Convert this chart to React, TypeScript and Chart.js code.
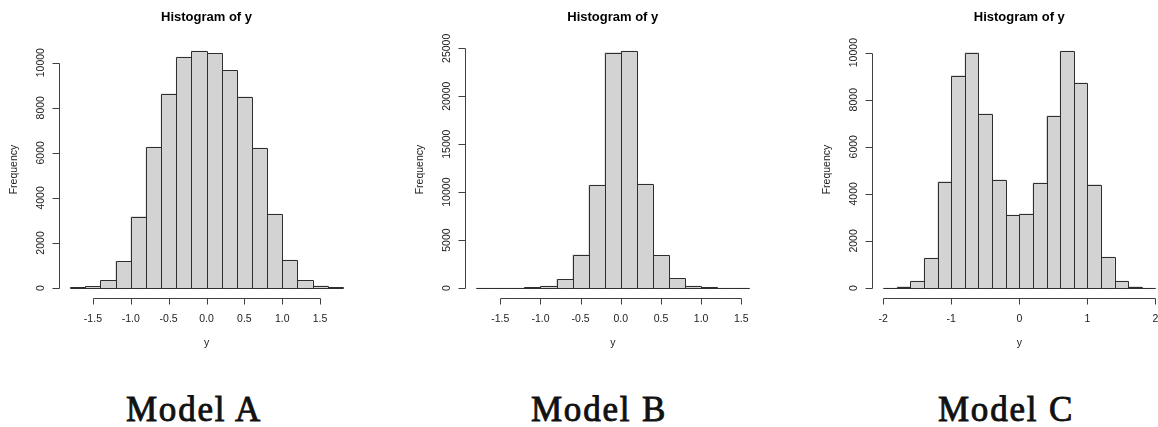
import React, { useEffect, useRef } from "react";
import { Chart, registerables } from "chart.js";

Chart.register(...registerables);

// ---------------- data ----------------
const binWidth = 0.2;

const binStartsA = [-1.8, -1.6, -1.4, -1.2, -1.0, -0.8, -0.6, -0.4, -0.2, 0.0, 0.2, 0.4, 0.6, 0.8, 1.0, 1.2, 1.4, 1.6];
const countsA = [30, 80, 345, 1190, 3170, 6260, 8620, 10250, 10520, 10410, 9660, 8490, 6210, 3280, 1240, 345, 95, 30];
const yTicksA = [0, 2000, 4000, 6000, 8000, 10000];
const xTicksA = [-1.5, -1.0, -0.5, 0.0, 0.5, 1.0, 1.5];
const xTickLabelsA = ["-1.5", "-1.0", "-0.5", "0.0", "0.5", "1.0", "1.5"];

const binStartsB = [-1.8, -1.6, -1.4, -1.2, -1.0, -0.8, -0.6, -0.4, -0.2, 0.0, 0.2, 0.4, 0.6, 0.8, 1.0, 1.2, 1.4];
const countsB = [0, 0, 3, 55, 200, 910, 3450, 10730, 24550, 24720, 10840, 3410, 1010, 200, 55, 3, 0];
const yTicksB = [0, 5000, 10000, 15000, 20000, 25000];
const xTicksB = [-1.5, -1.0, -0.5, 0.0, 0.5, 1.0, 1.5];
const xTickLabelsB = ["-1.5", "-1.0", "-0.5", "0.0", "0.5", "1.0", "1.5"];

const binStartsC = [-2.0, -1.8, -1.6, -1.4, -1.2, -1.0, -0.8, -0.6, -0.4, -0.2, 0.0, 0.2, 0.4, 0.6, 0.8, 1.0, 1.2, 1.4, 1.6, 1.8];
const countsC = [0, 60, 290, 1270, 4520, 9020, 10000, 7400, 4600, 3100, 3150, 4470, 7320, 10070, 8720, 4390, 1310, 290, 60, 0];
const yTicksC = [0, 2000, 4000, 6000, 8000, 10000];
const xTicksC = [-2, -1, 0, 1, 2];
const xTickLabelsC = ["-2", "-1", "0", "1", "2"];

const chartTitle = "Histogram of y";
const xAxisTitle = "y";
const yAxisTitle = "Frequency";
const modelLabels = ["Model A", "Model B", "Model C"];

// ---------------- layout (positions only) ----------------
const CANVAS_H = 360;
const AREA_TOP = 41.5;
const AREA_BOTTOM = 297.5;
const layouts = [
  { canvasLeft: 0, canvasWidth: 386, areaLeft: 59.3, areaRight: 353.7, labelCenter: 194 },
  { canvasLeft: 386, canvasWidth: 386, areaLeft: 465.3, areaRight: 760.2, labelCenter: 599 },
  { canvasLeft: 772, canvasWidth: 400, areaLeft: 872.4, areaRight: 1166.2, labelCenter: 1006 },
];

const panels = [
  { binStarts: binStartsA, counts: countsA, yTicks: yTicksA, xTicks: xTicksA, xTickLabels: xTickLabelsA },
  { binStarts: binStartsB, counts: countsB, yTicks: yTicksB, xTicks: xTicksB, xTickLabels: xTickLabelsB },
  { binStarts: binStartsC, counts: countsC, yTicks: yTicksC, xTicks: xTicksC, xTickLabels: xTickLabelsC },
];

const SANS = '"Liberation Sans", Arial, sans-serif';

// round to 2 decimals first so shared bin edges land on the same pixel
const crisp = (v: number) => Math.round(Math.round(v * 100) / 100) + 0.5;

const rPlugin = {
  id: "rStyle",
  afterDatasetsDraw(chart: any, _args: any, opts: any) {
    const ctx = chart.ctx as CanvasRenderingContext2D;
    const xs = chart.scales.x;
    const ys = chart.scales.y;
    const area = chart.chartArea;
    ctx.save();

    // bar outlines (R style: one shared 1px edge between bins)
    ctx.strokeStyle = "#2e2e2e";
    ctx.lineWidth = 1;
    const meta = chart.getDatasetMeta(0);
    meta.data.forEach((el: any) => {
      const p = el.getProps(["x", "y", "base", "width"], true);
      const l = crisp(p.x - p.width / 2);
      const r = crisp(p.x + p.width / 2);
      const t = crisp(p.y);
      const b = crisp(p.base);
      ctx.beginPath();
      ctx.rect(l, t, r - l, b - t);
      ctx.stroke();
    });

    // y axis
    const yTicks: number[] = opts.yTicks;
    const ax = crisp(area.left);
    ctx.strokeStyle = "#404040";
    ctx.beginPath();
    ctx.moveTo(ax, crisp(ys.getPixelForValue(yTicks[0])));
    ctx.lineTo(ax, crisp(ys.getPixelForValue(yTicks[yTicks.length - 1])));
    yTicks.forEach((v) => {
      const py = crisp(ys.getPixelForValue(v));
      ctx.moveTo(ax, py);
      ctx.lineTo(ax - 7, py);
    });
    ctx.stroke();

    // x axis
    const xTicks: number[] = opts.xTicks;
    const ay = crisp(area.bottom);
    ctx.beginPath();
    ctx.moveTo(crisp(xs.getPixelForValue(xTicks[0])), ay);
    ctx.lineTo(crisp(xs.getPixelForValue(xTicks[xTicks.length - 1])), ay);
    xTicks.forEach((v) => {
      const px = crisp(xs.getPixelForValue(v));
      ctx.moveTo(px, ay);
      ctx.lineTo(px, ay + 6);
    });
    ctx.stroke();

    // tick labels
    ctx.fillStyle = "#222";
    ctx.font = `10.5px ${SANS}`;
    ctx.textAlign = "center";
    ctx.textBaseline = "alphabetic";
    yTicks.forEach((v) => {
      const py = ys.getPixelForValue(v);
      ctx.save();
      ctx.translate(area.left - 15, py);
      ctx.rotate(-Math.PI / 2);
      ctx.fillText(String(v), 0, 0);
      ctx.restore();
    });
    const xLabels: string[] = opts.xTickLabels;
    xTicks.forEach((v, i) => {
      ctx.fillText(xLabels[i], xs.getPixelForValue(v), area.bottom + 24);
    });

    // axis titles
    const cx = (area.left + area.right) / 2;
    ctx.fillText(opts.xTitle, cx, area.bottom + 48);
    ctx.save();
    ctx.translate(area.left - 42, (area.top + area.bottom) / 2);
    ctx.rotate(-Math.PI / 2);
    ctx.fillText(opts.yTitle, 0, 0);
    ctx.restore();

    // main title
    ctx.fillStyle = "#000";
    ctx.font = `bold 13px ${SANS}`;
    ctx.fillText(opts.title, cx, 21);

    ctx.restore();
  },
};

function Histogram({ panel, layout }: { panel: any; layout: any }) {
  const ref = useRef<HTMLCanvasElement>(null);
  useEffect(() => {
    const first = panel.binStarts[0];
    const last = panel.binStarts[panel.binStarts.length - 1] + binWidth;
    const span = last - first;
    const maxCount = Math.max(...panel.counts);
    const chart = new Chart(ref.current as HTMLCanvasElement, {
      type: "bar",
      data: {
        datasets: [
          {
            data: panel.binStarts.map((s: number, i: number) => ({ x: s + binWidth / 2, y: panel.counts[i] })),
            backgroundColor: "#D3D3D3",
            borderWidth: 0,
            barPercentage: 1,
            categoryPercentage: 1,
          } as any,
        ],
      },
      options: {
        responsive: false,
        animation: false,
        devicePixelRatio: 1,
        events: [],
        layout: {
          padding: {
            left: layout.areaLeft - layout.canvasLeft,
            right: layout.canvasLeft + layout.canvasWidth - layout.areaRight,
            top: AREA_TOP,
            bottom: CANVAS_H - AREA_BOTTOM,
          },
        },
        scales: {
          x: {
            type: "linear",
            display: false,
            offset: false,
            min: first - 0.04 * span,
            max: last + 0.04 * span,
            ticks: { stepSize: 100 },
          },
          y: {
            type: "linear",
            display: false,
            min: -0.04 * maxCount,
            max: 1.04 * maxCount,
          },
        },
        plugins: {
          legend: { display: false },
          tooltip: { enabled: false },
          title: { display: false },
          rStyle: {
            yTicks: panel.yTicks,
            xTicks: panel.xTicks,
            xTickLabels: panel.xTickLabels,
            title: chartTitle,
            xTitle: xAxisTitle,
            yTitle: yAxisTitle,
          },
        } as any,
      },
      plugins: [rPlugin],
    });
    return () => chart.destroy();
  }, [panel, layout]);
  return (
    <canvas
      ref={ref}
      width={layout.canvasWidth}
      height={CANVAS_H}
      style={{ position: "absolute", left: layout.canvasLeft, top: 0, display: "block" }}
    />
  );
}

export default function App() {
  return (
    <div
      style={{
        position: "absolute",
        left: 0,
        top: 0,
        width: 1158,
        height: 427,
        overflow: "hidden",
        background: "#fff",
      }}
    >
      {panels.map((p, i) => (
        <Histogram key={i} panel={p} layout={layouts[i]} />
      ))}
      {modelLabels.map((label, i) => (
        <div
          key={label}
          style={{
            position: "absolute",
            left: layouts[i].labelCenter - 120,
            width: 240,
            top: 392,
            textAlign: "center",
            fontFamily: '"Liberation Serif", "Times New Roman", serif',
            fontWeight: "normal",
            fontSize: "35px",
            lineHeight: "35px",
            letterSpacing: "1.8px",
            color: "#111",
            WebkitTextStroke: "0.9px #111",
            whiteSpace: "nowrap",
          }}
        >
          {label}
        </div>
      ))}
    </div>
  );
}
